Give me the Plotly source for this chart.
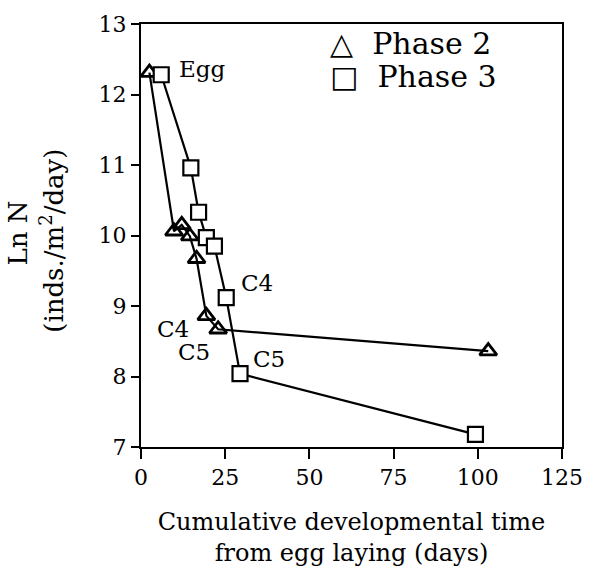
import plotly.graph_objects as go

# Phase 2 (triangles)
phase2_x = [2.5, 9.8, 12.1, 14.5, 16.5, 19.4, 22.9, 103.1]
phase2_y = [12.31, 10.06, 10.15, 9.99, 9.67, 8.86, 8.67, 8.36]
# Phase 3 (squares)
phase3_x = [6.0, 14.8, 17.1, 19.4, 21.8, 25.3, 29.4, 99.3]
phase3_y = [12.28, 10.96, 10.33, 9.97, 9.85, 9.12, 8.04, 7.18]

x_ticks = [0, 25, 50, 75, 100, 125]
y_ticks = [7, 8, 9, 10, 11, 12, 13]

FONT = "DejaVu Serif"

fig = go.Figure()
fig.add_trace(go.Scatter(
    x=phase2_x, y=phase2_y, mode="lines+markers", name="Phase 2",
    line=dict(color="black", width=2.2),
    marker=dict(symbol="triangle-up-open", size=15, color="black", line=dict(width=2.8, color="black")),
    showlegend=False))
fig.add_trace(go.Scatter(
    x=phase3_x, y=phase3_y, mode="lines+markers", name="Phase 3",
    line=dict(color="black", width=2.2),
    marker=dict(symbol="square", size=15, color="white", line=dict(width=2.2, color="black")),
    showlegend=False))

# stage labels
labels = [
    ("Egg", phase3_x[0], phase3_y[0], 16, 6, "left"),
    ("C4", phase3_x[5], phase3_y[5], 13, 15, "left"),
    ("C4", phase2_x[5], phase2_y[5], -15, -13, "right"),
    ("C5", phase2_x[6], phase2_y[6], -6, -23, "right"),
    ("C5", phase3_x[6], phase3_y[6], 11, 15, "left"),
]
for t, x, y, dx, dy, anc in labels:
    fig.add_annotation(x=x, y=y, text=t, showarrow=False, xanchor=anc, yanchor="middle",
                       xshift=dx, yshift=dy, font=dict(family=FONT, size=23, color="black"))

# legend drawn as text
fig.add_annotation(xref="paper", yref="paper", x=0.445, y=0.955, text="△  Phase 2",
                   showarrow=False, xanchor="left", yanchor="middle",
                   font=dict(family=FONT, size=30, color="black"))
fig.add_annotation(xref="paper", yref="paper", x=0.445, y=0.876, text="□  Phase 3",
                   showarrow=False, xanchor="left", yanchor="middle",
                   font=dict(family=FONT, size=30, color="black"))

# y-axis title lines
fig.add_annotation(xref="paper", yref="paper", x=-0.292, y=0.505, text="Ln N",
                   showarrow=False, textangle=-90, xanchor="center", yanchor="middle",
                   font=dict(family=FONT, size=26, color="black"))
fig.add_annotation(xref="paper", yref="paper", x=-0.212, y=0.487, text="(inds./m<sup>2</sup>/day)",
                   showarrow=False, textangle=-90, xanchor="center", yanchor="middle",
                   font=dict(family=FONT, size=26, color="black"))

fig.update_xaxes(range=[0, 125], tickvals=x_ticks, ticktext=[str(v) for v in x_ticks],
                 showline=True, linecolor="black", linewidth=2, mirror=True,
                 ticks="outside", ticklen=10, tickwidth=2, tickcolor="black",
                 showgrid=False, zeroline=False,
                 tickfont=dict(family=FONT, size=22, color="black"),
                 title=dict(text="Cumulative developmental time<br>from egg laying (days)",
                            font=dict(family=FONT, size=24, color="black"), standoff=24))
fig.update_yaxes(range=[7, 13], tickvals=y_ticks, ticktext=[str(v) for v in y_ticks],
                 showline=True, linecolor="black", linewidth=2, mirror=True,
                 ticks="outside", ticklen=8, tickwidth=2, tickcolor="black",
                 showgrid=False, zeroline=False,
                 tickfont=dict(family=FONT, size=22, color="black"))

fig.update_layout(width=595, height=574, plot_bgcolor="white", paper_bgcolor="white",
                  margin=dict(l=141, r=27, t=15, b=126))

fig.write_html("out.html")
